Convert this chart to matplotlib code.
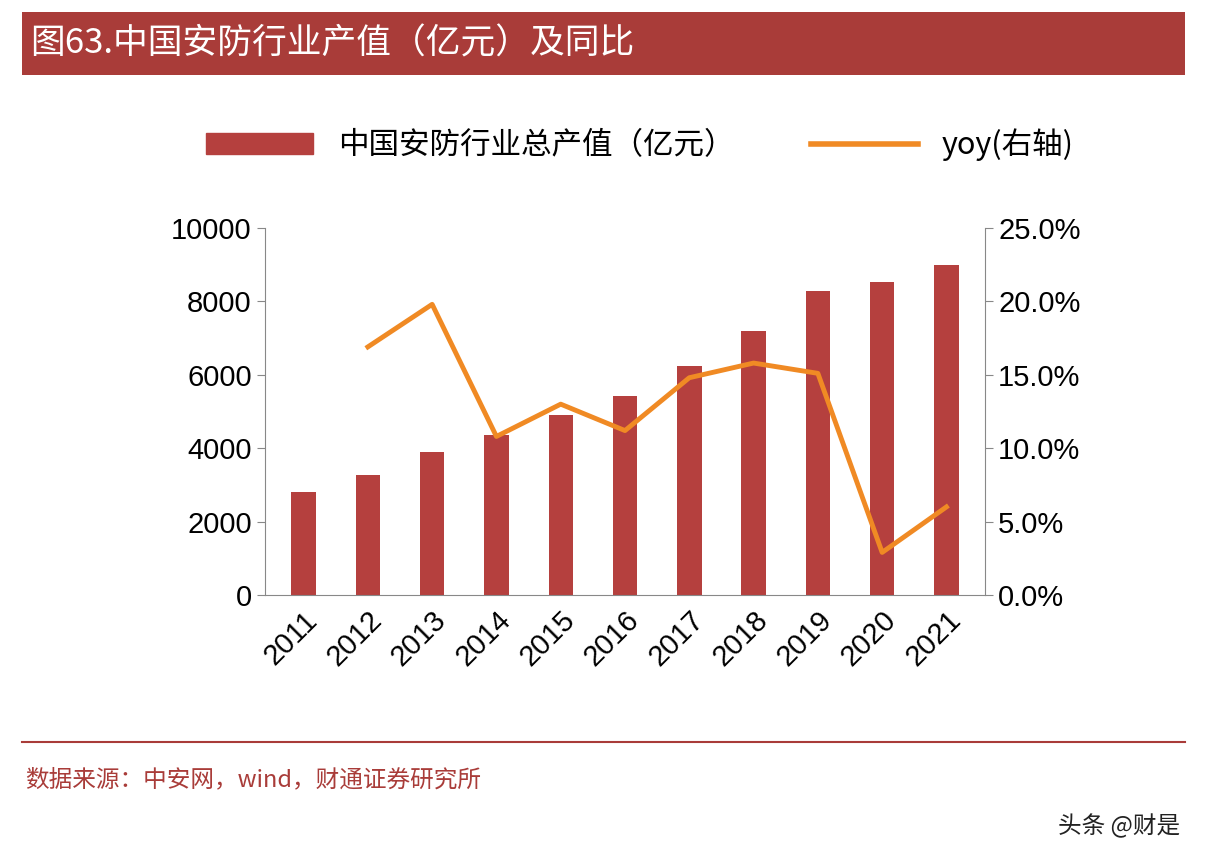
import matplotlib
matplotlib.use("Agg")
import matplotlib.pyplot as plt
from matplotlib.patches import Rectangle
from matplotlib.lines import Line2D
from matplotlib.ticker import FuncFormatter

plt.rcParams['font.family'] = ['Liberation Sans', 'Noto Sans CJK SC', 'DejaVu Sans']

years = ['2011','2012','2013','2014','2015','2016','2017','2018','2019','2020','2021']
output = [2800, 3280, 3900, 4350, 4900, 5430, 6230, 7200, 8280, 8520, 9000]
yoy_years = years[1:]
yoy = [16.9, 19.8, 10.8, 13.0, 11.2, 14.8, 15.8, 15.1, 2.9, 6.0]

red = '#B5403E'
orange = '#F08A24'
cjk = ['Noto Sans CJK SC', 'DejaVu Sans']
fig = plt.figure(figsize=(12.08, 8.66), dpi=100)

fig.patches.append(Rectangle((22/1208, 1-75/866), 1163/1208, 63/866, transform=fig.transFigure,
                             facecolor='#A93C39', edgecolor='none'))
fig.text(30/1208, 1-44/866, '图63.中国安防行业产值（亿元）及同比', color='white', fontsize=25,
         va='center', ha='left', family=cjk)

ax = fig.add_axes([265/1208, 1-595/866, 720/1208, 367/866])
x = list(range(len(years)))
ax.bar(x, output, width=0.38, color=red, zorder=2)
ax.set_ylim(0, 10000)
ax.set_xlim(-0.6, len(years)-0.4)
ax.set_yticks(range(0, 10001, 2000))
ax.set_xticks(x)
ax.set_xticklabels(years, rotation=45, ha='right', rotation_mode='anchor')
for s in ['top', 'right']:
    ax.spines[s].set_visible(False)
ax.spines['left'].set_color('#888888')
ax.spines['bottom'].set_color('#888888')
ax.tick_params(axis='y', labelsize=21, color='#888888', length=6, direction='out')
ax.tick_params(axis='x', labelsize=21, length=0, pad=8)

ax2 = ax.twinx()
ax2.plot(x[1:], yoy, color=orange, lw=3.5, zorder=3)
ax2.set_ylim(0, 25)
ax2.set_yticks(range(0, 26, 5))
ax2.yaxis.set_major_formatter(FuncFormatter(lambda v, p: f'{v:.1f}%'))
for s in ['top', 'left', 'bottom']:
    ax2.spines[s].set_visible(False)
ax2.spines['right'].set_color('#888888')
ax2.tick_params(axis='y', labelsize=21, color='#888888', length=6)

handles = [Rectangle((0, 0), 1, 1, color=red), Line2D([0], [0], color=orange, lw=4)]
fig.legend(handles, ['中国安防行业总产值（亿元）', 'yoy(右轴)'], loc='center',
           bbox_to_anchor=(0.53, 1-145/866), ncol=2, frameon=False, fontsize=22,
           handlelength=3.5, columnspacing=2.5, prop={'family': cjk, 'size': 22})

fig.add_artist(Line2D([22/1208, 1185/1208], [1-742/866]*2, color='#A93C39', lw=1.5))
fig.text(25/1208, 1-780/866, '数据来源：中安网，wind，财通证券研究所', color='#A93C39',
         fontsize=17, va='center', family=cjk)
fig.text(1180/1208, 1-826/866, '头条 @财是', color='#222222', fontsize=17, va='center', ha='right',
         family=cjk)

fig.savefig('out.png', dpi=100, facecolor='white')
